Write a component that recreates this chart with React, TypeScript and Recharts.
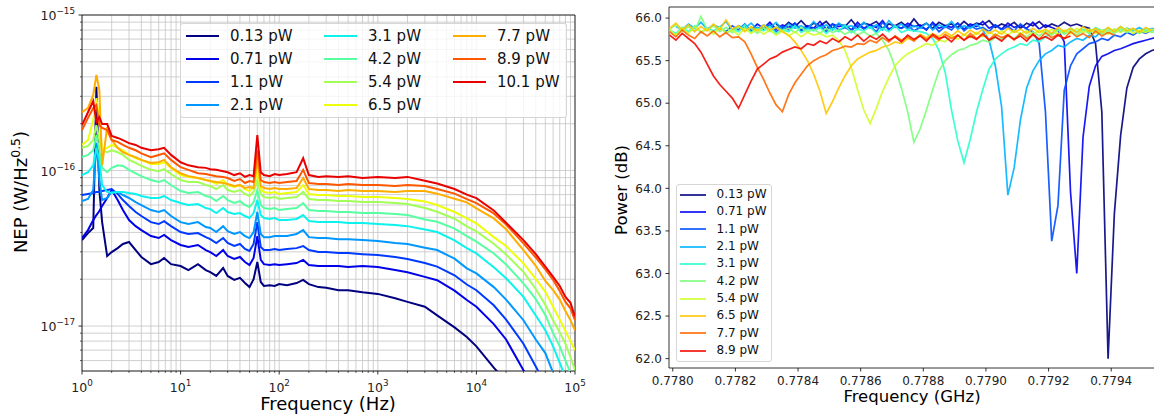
import React from 'react';
import { LineChart, Line, XAxis, YAxis, CartesianGrid, Legend, ReferenceArea } from 'recharts';

const FONT = '"DejaVu Sans", "Liberation Sans", sans-serif';
const N = null;

// ================= Left panel: NEP spectra =================
const nepPowers = ['0.13 pW', '0.71 pW', '1.1 pW', '2.1 pW', '3.1 pW', '4.2 pW', '5.4 pW', '6.5 pW', '7.7 pW', '8.9 pW', '10.1 pW'];
const nepColors = ['#000080', '#0000e9', '#003aff', '#0097ff', '#0bf3ec', '#56ffa1', '#a1ff56', '#ecff0b', '#ffad00', '#ff5700', '#e90000'];

const nepFreqHz = [1, 1.15, 1.3, 1.4, 1.5, 1.6, 1.8, 2, 2.3, 2.6, 3, 3.5, 4, 5, 6, 6.8, 8, 10, 12, 15, 18, 20, 23, 27, 30, 35, 40, 45, 50, 55, 60, 65, 70, 80, 90, 100, 120, 150, 175, 200, 250, 300, 400, 500, 700, 1000, 1500, 2000, 3000, 4000, 6000, 8000, 10000, 15000, 20000, 30000, 40000, 50000, 60000, 70000, 80000, 90000, 100000];

// NEP in units of 1e-17 W/Hz^0.5
const nep013 = [3.57, 3.96, 4.27, 34.5, 7.49, 4.66, 2.82, 2.99, 3.17, 3.37, 3.47, 3.08, 2.78, 2.5, 2.58, 2.74, 2.5, 2.43, 2.29, 2.5, 2.29, 2.22, 2.1, 2.36, 2.1, 1.98, 2.04, 1.89, 1.78, 2.0, 2.58, 1.92, 1.81, 1.83, 1.81, 1.86, 1.83, 1.89, 1.98, 1.86, 1.78, 1.76, 1.7, 1.7, 1.65, 1.61, 1.51, 1.43, 1.33, 1.17, 0.98, 0.85, 0.74, 0.54, 0.44, 0.33, 0.28, 0.25, 0.22, 0.2, 0.18, 0.16, 0.15];
const nep071 = [3.68, 4.14, 4.8, 5.17, 5.49, 5.91, 6.66, 7.49, 6.46, 5.57, 4.8, 4.39, 4.14, 3.79, 3.68, 3.85, 3.57, 3.32, 3.22, 3.32, 3.08, 2.99, 2.82, 3.08, 2.82, 2.7, 2.78, 2.58, 2.47, 2.74, 3.79, 2.66, 2.5, 2.47, 2.5, 2.47, 2.5, 2.54, 2.66, 2.47, 2.43, 2.43, 2.43, 2.4, 2.43, 2.4, 2.29, 2.22, 2.07, 1.97, 1.69, 1.47, 1.33, 1.03, 0.82, 0.52, 0.4, 0.33, 0.28, 0.24, 0.21, 0.19, 0.17];
const nep11 = [6.96, 7.07, 7.17, 7.28, 7.28, 7.38, 7.49, 7.6, 7.07, 6.46, 5.91, 5.41, 5.1, 4.66, 4.53, 4.73, 4.39, 4.02, 3.91, 3.96, 3.73, 3.62, 3.42, 3.68, 3.42, 3.27, 3.37, 3.13, 3.04, 3.37, 4.66, 3.22, 3.08, 3.08, 3.13, 3.08, 3.13, 3.17, 3.27, 3.08, 2.99, 2.99, 2.95, 2.95, 2.9, 2.86, 2.78, 2.7, 2.54, 2.41, 2.12, 1.85, 1.7, 1.36, 1.1, 0.77, 0.55, 0.42, 0.35, 0.3, 0.26, 0.23, 0.2];
const nep21 = [6.36, 6.56, 7.49, 15.0, 8.69, 6.46, 6.66, 7.28, 7.28, 6.96, 6.66, 6.27, 6.0, 5.57, 5.41, 5.57, 5.1, 4.66, 4.53, 4.66, 4.33, 4.27, 4.02, 4.39, 4.08, 3.91, 4.02, 3.79, 3.68, 4.02, 5.41, 3.91, 3.73, 3.73, 3.79, 3.79, 3.79, 3.91, 4.14, 3.73, 3.68, 3.68, 3.62, 3.62, 3.57, 3.52, 3.42, 3.37, 3.19, 3.08, 2.71, 2.35, 2.18, 1.78, 1.48, 1.09, 0.82, 0.67, 0.5, 0.42, 0.36, 0.3, 0.26];
const nep31 = [9.35, 9.75, 10.8, 14.0, 11.7, 8.07, 7.28, 7.17, 7.28, 7.28, 7.17, 7.07, 6.86, 6.66, 6.66, 6.86, 6.46, 6.18, 6.0, 6.09, 5.74, 5.65, 5.33, 5.74, 5.41, 5.25, 5.33, 5.1, 4.95, 5.33, 6.46, 5.17, 4.95, 4.88, 4.95, 4.8, 4.8, 4.88, 5.17, 4.73, 4.66, 4.66, 4.66, 4.6, 4.6, 4.53, 4.46, 4.39, 4.18, 4.02, 3.56, 3.17, 2.93, 2.39, 2.03, 1.54, 1.17, 0.94, 0.74, 0.58, 0.47, 0.4, 0.35];
const nep42 = [12.2, 12.6, 13.5, 16.9, 13.5, 10.4, 9.75, 10.4, 10.8, 10.7, 10.1, 9.6, 9.2, 8.69, 8.43, 8.69, 8.07, 7.38, 7.17, 7.28, 6.86, 6.76, 6.36, 6.86, 6.46, 6.18, 6.36, 6.0, 5.82, 6.27, 7.49, 6.0, 5.74, 5.65, 5.74, 5.57, 5.65, 5.74, 6.18, 5.57, 5.49, 5.49, 5.41, 5.41, 5.33, 5.33, 5.25, 5.17, 4.85, 4.68, 4.23, 3.79, 3.49, 2.93, 2.49, 1.88, 1.49, 1.18, 0.9, 0.74, 0.6, 0.5, 0.41];
const nep54 = [14.0, 14.4, 15.7, 19.6, 15.7, 13.5, 13.1, 13.5, 13.1, 12.6, 11.7, 11.2, 10.7, 10.1, 9.9, 10.2, 9.5, 8.69, 8.43, 8.43, 8.07, 7.95, 7.6, 8.07, 7.49, 7.28, 7.49, 7.07, 6.86, 7.28, 8.69, 7.07, 6.76, 6.66, 6.76, 6.56, 6.66, 6.76, 7.28, 6.56, 6.46, 6.46, 6.36, 6.36, 6.27, 6.27, 6.18, 6.09, 5.74, 5.43, 4.9, 4.38, 4.06, 3.38, 2.89, 2.23, 1.73, 1.37, 1.09, 0.91, 0.77, 0.63, 0.52];
const nep65 = [14.6, 15.7, 21.1, 29.2, 21.1, 13.5, 14.0, 14.6, 14.0, 13.5, 12.6, 12.0, 11.7, 11.0, 11.0, 11.3, 10.4, 9.35, 9.1, 8.95, 8.69, 8.56, 8.2, 8.69, 8.07, 7.83, 8.07, 7.6, 7.38, 7.83, 10.1, 7.6, 7.28, 7.17, 7.28, 7.07, 7.17, 7.28, 8.07, 7.07, 6.96, 6.96, 6.86, 6.86, 6.76, 6.76, 6.66, 6.56, 6.33, 6.0, 5.41, 4.92, 4.57, 3.73, 3.27, 2.53, 2.01, 1.66, 1.33, 1.1, 0.93, 0.8, 0.7];
const nep77 = [23.7, 25.2, 30.6, 41.2, 32.9, 10.8, 19.0, 15.7, 14.0, 13.1, 12.6, 12.2, 11.7, 11.2, 11.3, 11.7, 10.5, 9.6, 9.2, 8.95, 8.69, 8.56, 8.43, 8.31, 8.2, 7.95, 8.07, 7.72, 7.83, 7.72, 11.7, 7.95, 7.72, 7.6, 7.72, 7.6, 7.6, 7.72, 8.95, 7.6, 7.49, 7.49, 7.38, 7.49, 7.38, 7.38, 7.28, 7.38, 7.38, 7.1, 6.58, 6.24, 5.71, 4.92, 4.19, 3.08, 2.44, 1.95, 1.7, 1.48, 1.25, 1.09, 0.94];
const nep89 = [18.2, 21.8, 25.2, 26.4, 19.6, 18.8, 18.2, 15.7, 15.3, 14.6, 14.0, 13.5, 12.9, 12.2, 12.6, 12.9, 11.7, 10.5, 10.1, 9.6, 9.5, 9.35, 9.2, 9.1, 8.95, 8.56, 8.82, 8.31, 8.56, 8.43, 13.5, 8.69, 8.43, 8.31, 8.43, 8.31, 8.43, 8.56, 10.1, 8.31, 8.2, 8.2, 8.07, 8.2, 8.07, 8.07, 7.95, 8.07, 7.95, 7.6, 7.1, 6.55, 6.17, 5.3, 4.5, 3.4, 2.76, 2.31, 1.98, 1.68, 1.43, 1.3, 1.09];
const nep101 = [19.6, 23.7, 28.0, 20.5, 22.0, 19.9, 19.9, 16.7, 16.2, 15.7, 15.0, 14.6, 14.0, 13.5, 13.7, 14.0, 12.6, 11.3, 10.8, 10.5, 10.4, 10.2, 10.1, 9.9, 9.75, 9.35, 9.6, 9.1, 9.35, 9.2, 16.9, 9.75, 9.35, 9.2, 9.5, 9.35, 9.5, 9.75, 12.0, 9.35, 9.1, 9.2, 9.1, 9.2, 8.95, 9.1, 8.95, 9.1, 8.6, 8.25, 7.6, 7.0, 6.65, 5.54, 4.62, 3.57, 2.9, 2.41, 2.07, 1.81, 1.54, 1.41, 1.15];

const nepXTicks = [1, 2, 3, 4, 5, 6, 7, 8, 9, 10, 20, 30, 40, 50, 60, 70, 80, 90, 100, 200, 300, 400, 500, 600, 700, 800, 900, 1000, 2000, 3000, 4000, 5000, 6000, 7000, 8000, 9000, 10000, 20000, 30000, 40000, 50000, 60000, 70000, 80000, 90000, 100000];
const nepYTicks = [6e-18, 7e-18, 8e-18, 9e-18, 1e-17, 2e-17, 3e-17, 4e-17, 5e-17, 6e-17, 7e-17, 8e-17, 9e-17, 1e-16, 2e-16, 3e-16, 4e-16, 5e-16, 6e-16, 7e-16, 8e-16, 9e-16, 1e-15];
const NEP_YMIN = 5.14e-18;
const NEP_YMAX = 1e-15;

const nepSeries = [nep013, nep071, nep11, nep21, nep31, nep42, nep54, nep65, nep77, nep89, nep101];
const nepRows = nepFreqHz.map((f, i) => {
  const row: any = { f };
  nepSeries.forEach((s, j) => {
    row['s' + j] = s[i] * 1e-17;
  });
  return row;
});

// ================= Right panel: resonance dips =================
const pwLabels = ['0.13 pW', '0.71 pW', '1.1 pW', '2.1 pW', '3.1 pW', '4.2 pW', '5.4 pW', '6.5 pW', '7.7 pW', '8.9 pW'];
const pwColors = ['#000080', '#0000f3', '#004dff', '#00b3ff', '#29ffce', '#7bff7b', '#ceff29', '#ffc600', '#ff6800', '#f30900'];

const pwFreqGHz = [
  0.77799, 0.77801, 0.77803, 0.77805, 0.77807, 0.77809, 0.77811, 0.77813, 0.77815, 0.77817,
  0.77819, 0.77821, 0.77823, 0.77825, 0.77827, 0.77829, 0.77831, 0.77833, 0.77835, 0.77837,
  0.77839, 0.77841, 0.77843, 0.77845, 0.77847, 0.77849, 0.77851, 0.77853, 0.77855, 0.77857,
  0.77859, 0.77861, 0.77863, 0.77865, 0.77867, 0.77869, 0.77871, 0.77873, 0.77875, 0.77877,
  0.77879, 0.77881, 0.77883, 0.77885, 0.77887, 0.77889, 0.77891, 0.77893, 0.77895, 0.77897,
  0.77899, 0.77901, 0.77903, 0.77905, 0.77907, 0.77909, 0.77911, 0.77913, 0.77915, 0.77917,
  0.77919, 0.77921, 0.77923, 0.77925, 0.77927, 0.77929, 0.77931, 0.77933, 0.77935, 0.77937,
  0.77939, 0.77941, 0.77943, 0.77945, 0.77947, 0.77949, 0.77951, 0.77953, 0.77955,
];

const pw013 = [
  N, N, N, N, N, N, N, N, N, N, N, N, N, N, N, N, N,
  65.93, 65.88, 65.95, 65.90, 65.97, 65.89, 65.94, 65.91, 65.96, 65.88,
  65.93, 65.90, 65.98, 65.89, 65.94, 65.92, 65.96, 65.88, 65.93, 65.91,
  65.95, 65.89, 65.99, 65.90, 65.94, 65.88, 65.95, 65.91, 65.93, 65.89,
  65.96, 65.90, 65.94, 65.92, 65.97, 65.89, 65.93, 65.90, 65.95, 65.88,
  65.94, 65.91, 65.96, 65.89, 65.93, 65.90, 65.95, 65.91, 65.93, 65.90,
  65.88, 65.70, 64.90, 62.00, 63.70, 64.62, 65.18, 65.42, 65.52, 65.58, 65.62, 65.64,
];
const pw071 = [
  N, N, N, N, N, N, N, N, N, N, N, N,
  65.90, 65.86, 65.93, 65.88, 65.95, 65.87, 65.92, 65.89, 65.94, 65.86,
  65.91, 65.88, 65.96, 65.87, 65.93, 65.90, 65.92, 65.86, 65.95, 65.88,
  65.92, 65.89, 65.97, 65.87, 65.91, 65.88, 65.94, 65.90, 65.92, 65.86,
  65.95, 65.88, 65.91, 65.89, 65.94, 65.87, 65.93, 65.90, 65.96, 65.88,
  65.92, 65.87, 65.94, 65.89, 65.91, 65.88, 65.95, 65.87, 65.92, 65.89,
  65.86, 65.72, 63.96, 63.00, 64.60, 65.20, 65.44, 65.55, 65.58, 65.62, 65.64, 65.67, 65.70, 65.72, 65.74, 65.76, 65.78,
];
const pw11 = [
  N, N, N, N, N, N, N, N,
  65.88, 65.84, 65.91, 65.86, 65.93, 65.85, 65.89, 65.87, 65.92, 65.84,
  65.90, 65.86, 65.94, 65.85, 65.89, 65.87, 65.91, 65.84, 65.93, 65.86,
  65.89, 65.85, 65.92, 65.87, 65.90, 65.84, 65.95, 65.86, 65.90, 65.88,
  65.92, 65.85, 65.89, 65.87, 65.93, 65.84, 65.90, 65.86, 65.94, 65.85,
  65.91, 65.87, 65.89, 65.84, 65.92, 65.86, 65.90, 65.85, 65.93, 65.87,
  65.84, 65.70, 64.90, 63.38, 63.80, 65.15, 65.44, 65.58, 65.64, 65.70, 65.72, 65.76, 65.74, 65.80, 65.78, 65.83, 65.80, 65.85, 65.82, 65.86, 65.84,
];
const pw21 = [
  N,
  65.90, 65.86, 65.93, 65.88, 65.95, 65.87, 65.92, 65.89, 65.96, 65.86,
  65.91, 65.88, 65.94, 65.87, 65.92, 65.89, 65.95, 65.86, 65.93, 65.88,
  65.91, 65.87, 65.96, 65.88, 65.92, 65.86, 65.94, 65.89, 65.91, 65.87,
  65.95, 65.88, 65.92, 65.86, 65.97, 65.89, 65.93, 65.87, 65.91, 65.88,
  65.94, 65.86, 65.92, 65.89, 65.96, 65.87, 65.91, 65.88, 65.93,
  65.86, 65.74, 65.44, 64.96, 63.92, 64.24, 64.80, 65.18, 65.38, 65.50, 65.58, 65.62, 65.68, 65.66, 65.72,
  65.76, 65.74, 65.80, 65.78, 65.85, 65.82, 65.87, 65.84, 65.88, 65.85, 65.89, 65.84, 65.88, 65.86,
];
const pw31 = [
  65.86, 65.82, 65.89, 65.84, 65.91, 65.83, 65.88, 65.85, 65.90, 65.82,
  65.87, 65.84, 65.92, 65.83, 65.88, 65.85, 65.90, 65.82, 65.86, 65.84,
  65.91, 65.83, 65.87, 65.85, 65.89, 65.82, 65.88, 65.84, 65.92, 65.83,
  65.87, 65.85, 65.90, 65.82, 65.88, 65.84, 65.91, 65.83, 65.86, 65.85,
  65.84,
  65.82, 65.76, 65.62, 65.36, 64.92, 64.56, 64.30, 64.58, 64.90, 65.16, 65.40, 65.52, 65.58, 65.63, 65.66, 65.70, 65.68, 65.74, 65.72,
  65.78, 65.82, 65.86, 65.83, 65.88, 65.84, 65.87, 65.83, 65.89, 65.85, 65.88, 65.84, 65.90, 65.85, 65.87, 65.83, 65.88, 65.85, 65.87,
];
const pw42 = [
  65.87, 65.92, 65.85, 65.90, 65.84, 66.02, 65.86, 65.91, 65.84, 65.89,
  65.83, 65.90, 65.85, 65.88, 65.82, 65.89, 65.84, 65.90, 65.85, 65.88,
  65.83, 65.89, 65.84, 65.87, 65.82, 65.88, 65.83, 65.86, 65.81, 65.85,
  65.80, 65.84, 65.79,
  65.82, 65.74, 65.62, 65.42, 65.18, 64.90, 64.54, 64.70, 64.92, 65.16, 65.38, 65.50, 65.57, 65.62, 65.64, 65.68, 65.70, 65.74, 65.72, 65.77, 65.75, 65.80, 65.76,
  65.82, 65.78, 65.84, 65.79, 65.85, 65.80, 65.86, 65.81, 65.85, 65.80, 65.86, 65.82, 65.87, 65.81, 65.86, 65.82, 65.88, 65.83, 65.87, 65.82, 65.86, 65.83, 65.85,
];
const pw54 = [
  65.86, 65.80, 65.88, 65.82, 65.90, 65.84, 65.87, 65.81, 65.89, 65.83,
  65.86, 65.80, 65.88, 65.82, 65.87, 65.81, 65.86, 65.80, 65.85, 65.79,
  65.84, 65.78, 65.83, 65.80, 65.82, 65.78,
  65.80, 65.74, 65.62, 65.42, 65.16, 64.92, 64.76, 64.94, 65.14, 65.30, 65.44, 65.52, 65.58, 65.62, 65.66, 65.70, 65.68, 65.74, 65.72, 65.79,
  65.75, 65.81, 65.77, 65.83, 65.78, 65.84, 65.79, 65.85, 65.80, 65.86, 65.81, 65.85, 65.80, 65.86, 65.82, 65.87, 65.81, 65.86, 65.82, 65.88,
  65.83, 65.87, 65.82, 65.86, 65.81, 65.87, 65.83, 65.88, 65.82, 65.86, 65.83, 65.87, 65.82,
];
const pw65 = [
  65.88, 65.94, 65.86, 65.92, 65.84, 65.90, 65.85, 65.93, 65.86, 65.98,
  65.87, 65.91, 65.84, 65.90, 65.85, 65.92, 65.86, 65.89, 65.84,
  65.80, 65.72, 65.62, 65.50, 65.34, 65.14, 64.88, 65.02, 65.18, 65.32, 65.44, 65.52, 65.56, 65.60, 65.62, 65.66, 65.68, 65.72, 65.70, 65.76,
  65.74, 65.81, 65.77, 65.82, 65.78, 65.84, 65.79, 65.85, 65.80, 65.86, 65.81, 65.87, 65.82, 65.86, 65.81, 65.88, 65.83, 65.87, 65.82, 65.88,
  65.83, 65.87, 65.82, 65.89, 65.84, 65.88, 65.83, 65.90, 65.84, 65.88, 65.83, 65.89, 65.84, 65.90, 65.85, 65.88, 65.83, 65.89, 65.85,
  N,
];
const pw77 = [
  65.84, 65.78, 65.86, 65.80, 65.76, 65.84, 65.79, 65.85, 65.78, 65.83, 65.77,
  65.78, 65.72, 65.58, 65.42, 65.28, 65.12, 64.98, 64.90, 65.10, 65.24, 65.34, 65.44, 65.50, 65.54, 65.57, 65.62, 65.64, 65.67, 65.66, 65.70,
  65.69, 65.74, 65.71, 65.77, 65.72, 65.79, 65.74, 65.78, 65.73, 65.80, 65.75, 65.79, 65.74, 65.81, 65.76, 65.80, 65.74, 65.82, 65.76, 65.80,
  65.75, 65.81, 65.77, 65.80, 65.74, 65.82, 65.76, 65.80, 65.75, 65.83, 65.77, 65.81, 65.76, 65.84, 65.78, 65.82, 65.77, 65.85, 65.79, 65.83, 65.80,
  N, N, N, N, N, N, N,
];
const pw89 = [
  65.80, 65.74, 65.82, 65.76, 65.70, 65.60, 65.46, 65.32, 65.22, 65.14, 65.06, 64.94, 65.10, 65.26, 65.40, 65.46, 65.52, 65.55, 65.60, 65.63, 65.66, 65.64, 65.70, 65.68, 65.73, 65.70, 65.76,
  65.72, 65.78, 65.74, 65.80, 65.73, 65.79, 65.75, 65.81, 65.74, 65.78, 65.72, 65.80, 65.75, 65.79, 65.73, 65.81, 65.76, 65.78, 65.72, 65.80,
  65.74, 65.79, 65.75, 65.82, 65.74, 65.78, 65.73, 65.80, 65.75, 65.79, 65.73, 65.81, 65.75, 65.78, 65.74, 65.80, 65.76, 65.79,
  N, N, N, N, N, N, N, N, N, N, N, N, N, N,
];

const pwXTicks = [0.778, 0.7782, 0.7784, 0.7786, 0.7788, 0.779, 0.7792, 0.7794];
const pwYTicks = [62.0, 62.5, 63.0, 63.5, 64.0, 64.5, 65.0, 65.5, 66.0];
const PW_XMIN = 0.777988;
const PW_XMAX = 0.779543;
const PW_YMIN = 61.89;
const PW_YMAX = 66.13;

const pwSeries = [pw013, pw071, pw11, pw21, pw31, pw42, pw54, pw65, pw77, pw89];
const pwRows = pwFreqGHz.map((f, i) => {
  const row: any = { f };
  pwSeries.forEach((s, j) => {
    row['p' + j] = s[i];
  });
  return row;
});

// ================= helpers =================
const isDecade = (v: number) => {
  const lg = Math.log10(v);
  return Math.abs(lg - Math.round(lg)) < 1e-6;
};
const expText = (v: number) => {
  const e = Math.round(Math.log10(v));
  return e < 0 ? '\u2212' + String(-e) : String(e);
};

const LogXTick = (props: any) => {
  const { x, y, payload } = props;
  const v = payload.value;
  const major = isDecade(v);
  return (
    <g>
      <line x1={x} x2={x} y1={y} y2={y + (major ? 3.5 : 2)} stroke="#000" strokeWidth={major ? 0.8 : 0.6} />
      {major && (
        <text x={x} y={y + 21} textAnchor="middle" fontSize={12.5} fontFamily={FONT} fill="#222">
          10<tspan dy={-6} fontSize={8.8}>{expText(v)}</tspan>
        </text>
      )}
    </g>
  );
};

const LogYTick = (props: any) => {
  const { x, y, payload } = props;
  const v = payload.value;
  const major = isDecade(v);
  return (
    <g>
      <line x1={x} x2={x - (major ? 3.5 : 2)} y1={y} y2={y} stroke="#000" strokeWidth={major ? 0.8 : 0.6} />
      {major && (
        <text x={x - 7} y={y + 5} textAnchor="end" fontSize={12.5} fontFamily={FONT} fill="#222">
          10<tspan dy={-6} fontSize={8.8}>{expText(v)}</tspan>
        </text>
      )}
    </g>
  );
};

const NepXLabel = () => (
  <text x={328} y={410} textAnchor="middle" fontSize={18} fontFamily={FONT} fill="#000">
    Frequency (Hz)
  </text>
);
const NepYLabel = () => (
  <text transform="translate(27,192) rotate(-90)" textAnchor="middle" fontSize={18} fontFamily={FONT} fill="#000">
    NEP (W/Hz<tspan dy={-7} fontSize={12.5}>0.5</tspan>
    <tspan dy={7}>)</tspan>
  </text>
);
const PwXLabel = () => (
  <text x={312} y={402} textAnchor="middle" fontSize={16.5} fontFamily={FONT} fill="#000">
    Frequency (GHz)
  </text>
);
const PwYLabel = () => (
  <text transform="translate(27,190) rotate(-90)" textAnchor="middle" fontSize={16.5} fontFamily={FONT} fill="#000">
    Power (dB)
  </text>
);

const NepLegend = () => {
  const colLefts = [5, 143, 272];
  return (
    <div
      style={{
        position: 'relative',
        width: 387,
        height: 95,
        background: 'rgba(255,255,255,0.8)',
        border: '1px solid #d6d6d6',
        borderRadius: 3,
        boxSizing: 'border-box',
        fontFamily: FONT,
      }}
    >
      {nepPowers.map((lab, i) => {
        const col = Math.floor(i / 4);
        const row = i % 4;
        const cy = 12 + 23 * row;
        const left = colLefts[col];
        return (
          <React.Fragment key={lab}>
            <div style={{ position: 'absolute', left, top: cy - 1.25, width: 33, height: 2.5, background: nepColors[i] }} />
            <div style={{ position: 'absolute', left: left + 44, top: cy - 9.5, fontSize: 15, lineHeight: '18px', color: '#111', whiteSpace: 'nowrap' }}>
              {lab}
            </div>
          </React.Fragment>
        );
      })}
    </div>
  );
};

const PwLegend = () => (
  <div
    style={{
      position: 'relative',
      width: 96,
      height: 178,
      background: 'rgba(255,255,255,0.8)',
      border: '1px solid #d6d6d6',
      borderRadius: 3,
      boxSizing: 'border-box',
      fontFamily: FONT,
    }}
  >
    {pwLabels.map((lab, i) => {
      const cy = 9.5 + 17.35 * i;
      return (
        <React.Fragment key={lab}>
          <div style={{ position: 'absolute', left: 3, top: cy - 1, width: 26, height: 2, background: pwColors[i], opacity: 0.8 }} />
          <div style={{ position: 'absolute', left: 39.5, top: cy - 7.5, fontSize: 12, lineHeight: '15px', color: '#111', whiteSpace: 'nowrap' }}>
            {lab}
          </div>
        </React.Fragment>
      );
    })}
  </div>
);

export default function App() {
  return (
    <div style={{ position: 'absolute', left: 0, top: 0, width: 1154, height: 416, overflow: 'hidden', background: '#fff', fontFamily: FONT }}>
      <div style={{ position: 'absolute', left: 0, top: 0 }}>
        <LineChart width={600} height={416} data={nepRows} margin={{ top: 15, right: 25, bottom: 0, left: 0 }}>
          <CartesianGrid stroke="#c4c4c4" strokeWidth={0.8} />
          <XAxis
            dataKey="f"
            type="number"
            scale="log"
            domain={[1, 100000]}
            allowDataOverflow
            ticks={nepXTicks}
            interval={0}
            tick={<LogXTick />}
            tickLine={false}
            axisLine={false}
            tickSize={0}
            tickMargin={0}
            height={45}
            label={<NepXLabel />}
          />
          <YAxis
            type="number"
            scale="log"
            domain={[NEP_YMIN, NEP_YMAX]}
            allowDataOverflow
            ticks={nepYTicks}
            interval={0}
            tick={<LogYTick />}
            tickLine={false}
            axisLine={false}
            tickSize={0}
            tickMargin={0}
            width={82}
            label={<NepYLabel />}
          />
          {nepSeries.map((_, j) => (
            <Line
              key={'s' + j}
              type="linear"
              dataKey={'s' + j}
              stroke={nepColors[j]}
              strokeWidth={2}
              dot={false}
              isAnimationActive={false}
              name={nepPowers[j]}
            />
          ))}
          <ReferenceArea x1={1} x2={100000} y1={NEP_YMIN} y2={NEP_YMAX} fill="none" stroke="#000" strokeWidth={0.8} ifOverflow="visible" />
          <Legend
            layout="horizontal"
            verticalAlign="middle"
            align="center"
            content={() => <NepLegend />}
            wrapperStyle={{ position: 'absolute', left: 180, top: 23, width: 387, height: 95 }}
          />
        </LineChart>
      </div>

      <div style={{ position: 'absolute', left: 600, top: 0 }}>
        <LineChart width={556} height={416} data={pwRows} margin={{ top: 7, right: 0, bottom: 0, left: 0 }}>
          <XAxis
            dataKey="f"
            type="number"
            domain={[PW_XMIN, PW_XMAX]}
            allowDataOverflow
            ticks={pwXTicks}
            interval={0}
            tickFormatter={(v: number) => v.toFixed(4)}
            tick={{ fontSize: 12, fill: '#222', fontFamily: FONT }}
            tickLine={{ stroke: '#000', strokeWidth: 0.8 }}
            axisLine={false}
            tickSize={3.5}
            tickMargin={5}
            height={48}
            label={<PwXLabel />}
          />
          <YAxis
            type="number"
            domain={[PW_YMIN, PW_YMAX]}
            allowDataOverflow
            ticks={pwYTicks}
            interval={0}
            tickFormatter={(v: number) => v.toFixed(1)}
            tick={{ fontSize: 12, fill: '#222', fontFamily: FONT }}
            tickLine={{ stroke: '#000', strokeWidth: 0.8 }}
            axisLine={false}
            tickSize={3.5}
            tickMargin={3.5}
            width={69}
            label={<PwYLabel />}
          />
          {pwSeries.map((_, j) => (
            <Line
              key={'p' + j}
              type="linear"
              dataKey={'p' + j}
              stroke={pwColors[j]}
              strokeOpacity={0.9}
              strokeWidth={1.7}
              dot={false}
              isAnimationActive={false}
              name={pwLabels[j]}
            />
          ))}
          <ReferenceArea x1={PW_XMIN} x2={PW_XMAX} y1={PW_YMIN} y2={PW_YMAX} fill="none" stroke="#000" strokeWidth={0.8} ifOverflow="visible" />
          <Legend
            layout="horizontal"
            verticalAlign="middle"
            align="center"
            content={() => <PwLegend />}
            wrapperStyle={{ position: 'absolute', left: 76, top: 184, width: 96, height: 178 }}
          />
        </LineChart>
      </div>
    </div>
  );
}
